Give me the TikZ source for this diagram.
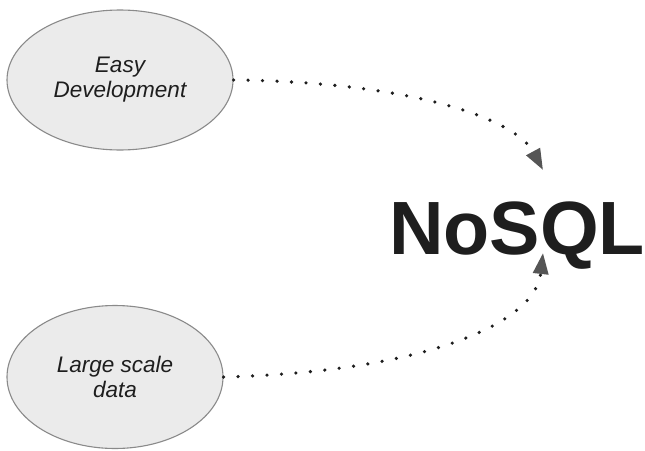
\documentclass[tikz,border=0pt]{standalone}
\usepackage{fontspec}
\setmainfont{Liberation Sans}
\usetikzlibrary{shapes.geometric,arrows.meta}
\definecolor{ellfill}{HTML}{EBEBEB}
\definecolor{ellline}{HTML}{8A8A8A}
\definecolor{txt}{HTML}{1E1E1E}
\definecolor{tipcol}{HTML}{555555}
\tikzset{
  bubble/.style={ellipse, draw=ellline, fill=ellfill, line width=1.1pt, inner sep=0pt,
    align=center, text=txt, font=\fontsize{22.5}{25}\selectfont\itshape},
  dotlink/.style={line width=3.6pt, draw=txt, line cap=round, dash pattern=on 0pt off 14.5pt,
    -{Triangle[length=21pt,width=15pt,color=tipcol,line cap=butt]}}
}
\begin{document}
\begin{tikzpicture}[x=1pt,y=-1pt]
\useasboundingbox (0,0) rectangle (645,450);
\node[anchor=base west, inner sep=0pt, text=txt, font=\fontsize{75.5}{90}\selectfont\bfseries] (nosql) at (389,254) {NoSQL};
\node[bubble, minimum width=226pt, minimum height=140pt] (e1) at (120,80) {Easy\\Development};
\node[bubble, minimum width=216pt, minimum height=143pt] (e2) at (115,377) {Large scale\\data};
\coordinate (t1) at (543,170);
\coordinate (t2) at (543,253);
\draw[dotlink] (e1.east) .. controls (410,82) and (515,118) .. (t1);
\draw[dotlink] (e2.east) .. controls (420,372) and (535,325) .. (t2);
\end{tikzpicture}
\end{document}
